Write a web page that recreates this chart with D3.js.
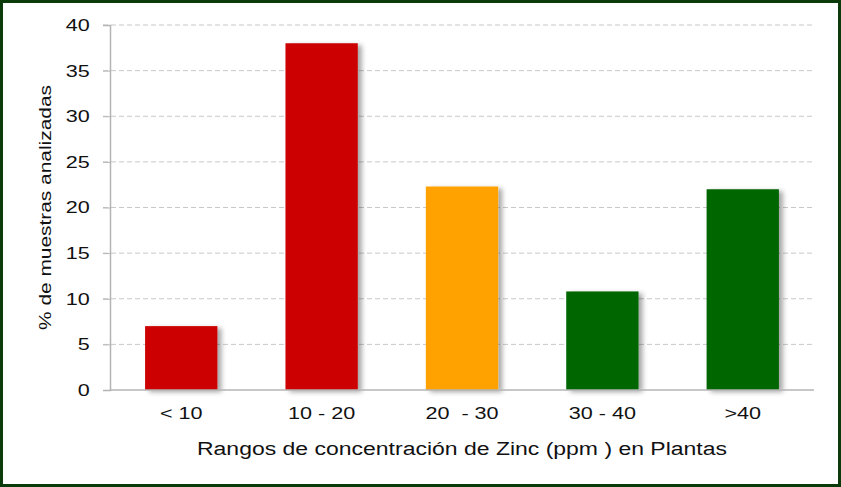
<!DOCTYPE html>
<html>
<head>
<meta charset="utf-8">
<script src="https://cdn.jsdelivr.net/npm/d3@7"></script>
<style>
    body { margin: 0; background: #fff; }
    svg { display: block; font-family: "Liberation Sans", Arial, sans-serif; }
</style>
</head>
<body>
<div id="chart"></div>
<script>
var categories = ['< 10', '10 - 20', '20  - 30', '30 - 40', '>40'];
var values = [7.0, 38.0, 22.3, 10.8, 22.0];
var barColors = ['#cc0000', '#cc0000', '#ffa200', '#006600', '#006600'];
var yTicks = [0, 5, 10, 15, 20, 25, 30, 35, 40];

drawChart();

function drawChart() {
    var width = 841;
    var height = 487;
    var plotLeft = 110, plotRight = 814, plotTop = 25, plotBottom = 390;
    var font = '"Liberation Sans", Arial, sans-serif';
    var stretch = 1.27; // the text in the picture is drawn wide

    var svg = d3.select('#chart')
        .append('svg')
        .attr('width', width)
        .attr('height', height);

    // shadow behind the bars
    var f = svg.append('defs').append('filter').attr('id', 'shadow')
        .attr('x', '-10%').attr('y', '-10%').attr('width', '130%').attr('height', '130%');
    f.append('feDropShadow')
        .attr('dx', 4).attr('dy', 2)
        .attr('stdDeviation', 2.5)
        .attr('flood-color', '#000')
        .attr('flood-opacity', 0.35);

    // frame
    svg.append('rect')
        .attr('x', 1.5).attr('y', 1.5)
        .attr('width', width - 3).attr('height', height - 3)
        .attr('fill', '#fff')
        .attr('stroke', '#0b3b0b')
        .attr('stroke-width', 3);

    var xScale = d3.scaleBand()
        .domain(categories)
        .range([plotLeft, plotRight])
        .paddingInner(0.485)
        .paddingOuter(0.25);

    var yScale = d3.scaleLinear()
        .domain([0, 40])
        .range([plotBottom, plotTop]);

    // grid
    svg.append('g')
        .selectAll('line')
        .data(yTicks.filter(function(d) { return d > 0; }))
        .enter()
        .append('line')
        .attr('x1', plotLeft - 7)
        .attr('x2', plotRight)
        .attr('y1', function(d) { return yScale(d); })
        .attr('y2', function(d) { return yScale(d); })
        .attr('stroke', '#c8c8c8')
        .attr('stroke-dasharray', '5,3');

    // bars
    svg.append('g')
        .selectAll('rect')
        .data(values)
        .enter()
        .append('rect')
        .attr('x', function(d, i) { return xScale(categories[i]); })
        .attr('y', function(d) { return yScale(d); })
        .attr('width', xScale.bandwidth())
        .attr('height', function(d) { return plotBottom - yScale(d); })
        .attr('fill', function(d, i) { return barColors[i]; })
        .attr('filter', 'url(#shadow)');

    // y axis
    var yAxis = d3.axisLeft(yScale).tickValues(yTicks).tickSize(7).tickPadding(9);
    var yG = svg.append('g')
        .attr('transform', 'translate(' + plotLeft + ',0)')
        .call(yAxis);
    yG.select('.domain').attr('stroke', '#b4b4b4').attr('stroke-width', 1.5);
    yG.selectAll('.tick line').attr('stroke', '#b4b4b4');
    yG.selectAll('text').attr('font-size', 17).attr('fill', '#111').attr('font-family', font)
        .attr('transform', 'scale(' + stretch + ',1)');

    // x axis
    var xAxis = d3.axisBottom(xScale).tickSize(0).tickPadding(17);
    var xG = svg.append('g')
        .attr('transform', 'translate(0,' + plotBottom + ')')
        .call(xAxis);
    xG.select('.domain').attr('stroke', '#b4b4b4').attr('stroke-width', 1.5)
        .attr('d', 'M' + plotLeft + ',0H' + plotRight);
    xG.selectAll('text').attr('font-size', 17).attr('fill', '#111').attr('font-family', font)
        .style('white-space', 'pre')
        .attr('transform', 'scale(' + stretch + ',1)');

    // titles
    svg.append('text')
        .attr('x', 197)
        .attr('y', 455)
        .attr('font-size', 18)
        .attr('fill', '#111')
        .attr('textLength', 530)
        .attr('lengthAdjust', 'spacingAndGlyphs')
        .text('Rangos de concentración de Zinc (ppm ) en Plantas');

    svg.append('text')
        .attr('transform', 'translate(51,330) rotate(-90)')
        .attr('font-size', 17)
        .attr('fill', '#111')
        .attr('textLength', 245)
        .attr('lengthAdjust', 'spacingAndGlyphs')
        .text('% de muestras analizadas');
}
</script>
</body>
</html>
